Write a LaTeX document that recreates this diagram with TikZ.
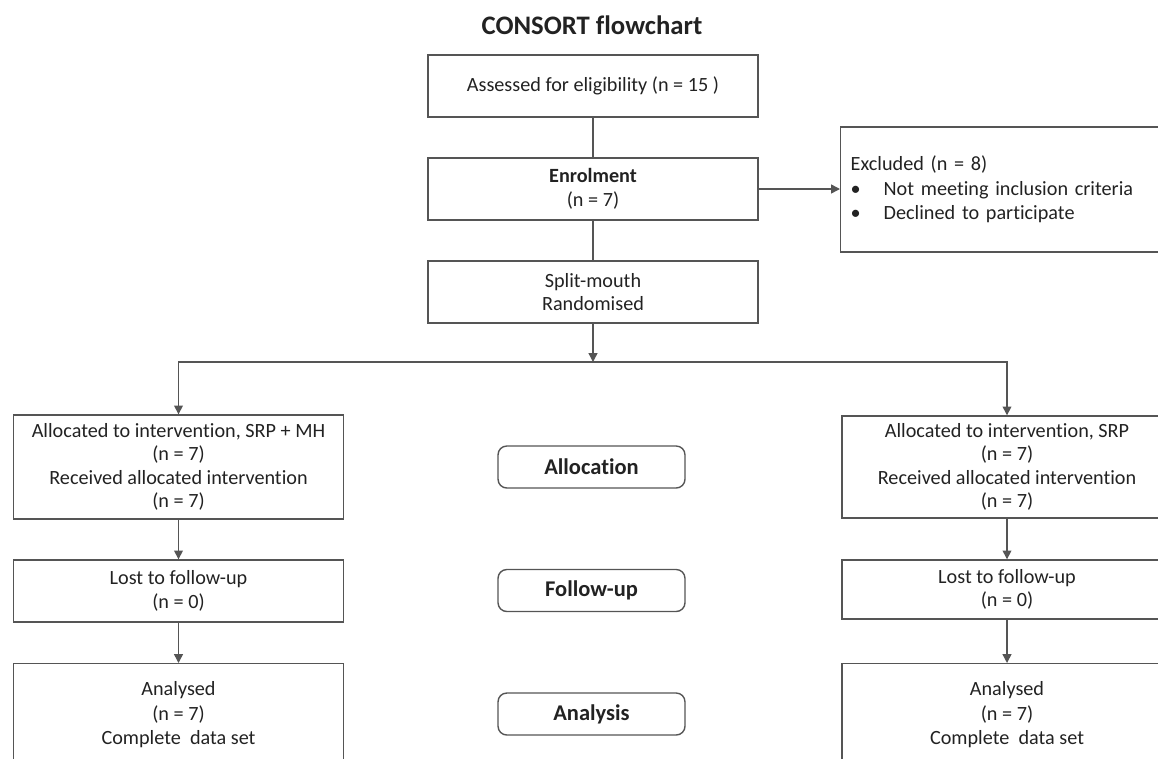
\documentclass[tikz,border=0pt]{standalone}
\usepackage{fontspec}
\setmainfont{Carlito}[Ligatures=NoCommon]
\usetikzlibrary{arrows.meta, positioning, calc}
\definecolor{flowline}{HTML}{555555}
\definecolor{flowtext}{HTML}{222222}
\tikzset{
  every picture/.style={line width=0.8pt},
  every node/.style={font=\fontsize{11.5}{13.4}\selectfont, text=flowtext},
  cbox/.style={draw=flowline, rectangle, align=center, minimum width=6.6cm, minimum height=1.24cm, inner sep=0cm},
  sbox/.style={draw=flowline, rounded corners=5pt, minimum width=3.74cm, minimum height=0.84cm, inner sep=0cm, font=\fontsize{12.8}{15}\selectfont\bfseries},
  xbox/.style={draw=flowline, rectangle, align=left, text width=6.4cm, minimum height=2.5cm, inner xsep=0.2cm, font=\fontsize{11.5}{13.9}\selectfont},
  link/.style={draw=flowline},
  arr/.style={draw=flowline, -{Triangle[length=5pt, width=5pt]}},
}

\begin{document}
\begin{tikzpicture}[x=0.02cm, y=-0.02cm, tips=proper]
    \useasboundingbox (0,0) rectangle (1158,758);
    \clip (0,0) rectangle (1158,758);

    \node [font=\fontsize{15.2}{18}\selectfont\bfseries] (title) at (592,25) {CONSORT flowchart};

    % enrolment column
    \node [cbox] (assess) at (593,86) {Assessed for eligibility (n = 15 )};
    \node [cbox] (enrol) at (593,189) {\textbf{Enrolment}\\(n = 7)};
    \node [cbox] (split) at (593,292) {Split-mouth\\Randomised};
    \node [xbox, anchor=west] (excl) at (840,189.5) {Excluded (n = 8)\\
      \makebox[0.66cm][l]{\textbullet}Not meeting inclusion criteria\\
      \makebox[0.66cm][l]{\textbullet}Declined to participate};

    % two arms
    \node [cbox, minimum height=2.08cm] (allocL) at (178.5,467) {Allocated to intervention, SRP + MH\\(n = 7)\\Received allocated intervention\\(n = 7)};
    \node [cbox, minimum height=2.04cm] (allocR) at (1007,467) {Allocated to intervention, SRP\\(n = 7)\\Received allocated intervention\\(n = 7)};
    \node [cbox] (lostL) at (178.5,591) {Lost to follow-up\\(n = 0)};
    \node [cbox, minimum height=1.18cm] (lostR) at (1007,589.5) {Lost to follow-up\\(n = 0)};
    \node [cbox, anchor=north, inner ysep=0.36cm, text depth=2cm, font=\fontsize{11.5}{13.9}\selectfont] (anaL) at (178.5,663) {Analysed\\(n = 7)\\Complete~~data set};
    \node [cbox, anchor=north, inner ysep=0.36cm, text depth=2cm, font=\fontsize{11.5}{13.9}\selectfont] (anaR) at (1007,663) {Analysed\\(n = 7)\\Complete~~data set};

    % stages
    \node [sbox] (allocation) at (591.5,467) {Allocation};
    \node [sbox] (followup) at (591.5,590.5) {Follow-up};
    \node [sbox] (analysis) at (591.5,714) {Analysis};

    \coordinate (fork) at (593,362);

    \draw [link] (assess) -- (enrol);
    \draw [link] (enrol) -- (split);
    \draw [arr] (enrol.east) -- (enrol.east -| excl.west);
    \draw [arr] (split) -- (fork);
    \draw [arr] (fork) -| (allocL);
    \draw [arr] (fork) -| (allocR);
    \draw [arr] (allocL) -- (lostL);
    \draw [arr] (lostL) -- (anaL);
    \draw [arr] (allocR) -- (lostR);
    \draw [arr] (lostR) -- (anaR);
\end{tikzpicture}
\end{document}
